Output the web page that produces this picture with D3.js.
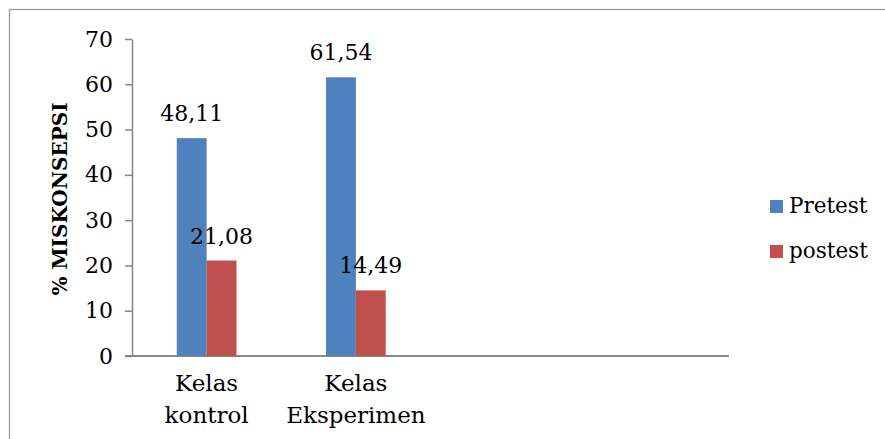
<!DOCTYPE html>
<html>
<head>
<meta charset="utf-8">
<script src="https://cdn.jsdelivr.net/npm/d3@7"></script>
<style>
  body { margin: 0; background: #fff; }
</style>
</head>
<body>
<div id="chart"></div>
<script>
const categories = [['Kelas', 'kontrol'], ['Kelas', 'Eksperimen'], [], []];
const seriesNames = ['Pretest', 'postest'];
const pretest = [48.11, 61.54];
const postest = [21.08, 14.49];
const yTicks = [0, 10, 20, 30, 40, 50, 60, 70];
const colors = ['#4F81BD', '#C0504D'];

const FONT = "'DejaVu Serif', serif";

const svgWidth = 885, svgHeight = 439;
const margin = { left: 132, right: 156, top: 39, bottom: 83 };
const width = svgWidth - margin.left - margin.right;
const height = svgHeight - margin.top - margin.bottom;

function translate(x, y) {
    return 'translate(' + x + ',' + y + ')';
}

const svg = d3.select('#chart').append('svg')
    .attr('width', svgWidth)
    .attr('height', svgHeight)
    .style('font-family', FONT);

// outer chart border (runs off the right/bottom edge)
svg.append('rect')
    .attr('x', 9.5).attr('y', 9.5)
    .attr('width', 1000).attr('height', 1000)
    .attr('fill', 'none')
    .attr('stroke', '#9a9a9a')
    .attr('stroke-width', 1.3);

const g = svg.append('g').attr('transform', translate(margin.left, margin.top));

const x0 = d3.scaleBand()
    .domain(d3.range(categories.length))
    .range([0, width]);
const x1 = d3.scaleBand()
    .domain(seriesNames)
    .range([0, x0.bandwidth()])
    .paddingOuter(1.5);
const y = d3.scaleLinear().domain([0, 70]).range([height, 0]);

// y axis
const yAxis = g.append('g')
    .call(d3.axisLeft(y).tickValues(yTicks).tickSize(7).tickSizeOuter(0).tickPadding(12));
yAxis.attr('font-family', null);
yAxis.select('.domain').attr('stroke', '#868686').attr('stroke-width', 1.5);
yAxis.selectAll('.tick line').attr('stroke', '#868686').attr('stroke-width', 1.5);
yAxis.selectAll('.tick text').style('font-size', '22px').style('font-family', FONT).attr('fill', '#000');

// x axis line
g.append('line')
    .attr('x1', -7).attr('x2', width)
    .attr('y1', height).attr('y2', height)
    .attr('stroke', '#868686').attr('stroke-width', 2);

const data = pretest.map((d, i) => ({ i: i, vals: [pretest[i], postest[i]] }));

const groups = g.selectAll('.grp').data(data).enter()
    .append('g')
    .attr('class', 'grp')
    .attr('transform', d => translate(x0(d.i), 0));

groups.selectAll('rect').data(d => d.vals.map((v, k) => ({ v: v, k: k }))).enter()
    .append('rect')
    .attr('x', d => x1(seriesNames[d.k]))
    .attr('width', x1.bandwidth())
    .attr('y', d => y(d.v))
    .attr('height', d => height - y(d.v))
    .attr('fill', d => colors[d.k]);

groups.selectAll('.lbl').data(d => d.vals.map((v, k) => ({ v: v, k: k }))).enter()
    .append('text')
    .attr('class', 'lbl')
    .attr('x', d => x1(seriesNames[d.k]) + x1.bandwidth() / 2)
    .attr('y', d => y(d.v) - 17)
    .attr('text-anchor', 'middle')
    .style('font-size', '22px')
    .text(d => d.v.toFixed(2).replace('.', ','));

// category labels
const catLabels = g.selectAll('.cat').data(categories).enter()
    .append('text')
    .attr('class', 'cat')
    .attr('text-anchor', 'middle')
    .attr('transform', (d, i) => translate(x0(i) + x0.bandwidth() / 2, height + 35))
    .style('font-size', '23px');
catLabels.selectAll('tspan').data(d => d).enter()
    .append('tspan')
    .attr('x', 0)
    .attr('dy', (d, i) => i === 0 ? 0 : 32)
    .text(d => d);

// y title
svg.append('text')
    .attr('transform', translate(67, 199) + ' rotate(-90)')
    .attr('text-anchor', 'middle')
    .style('font-size', '20px')
    .style('font-weight', 'bold')
    .text('% MISKONSEPSI');

// legend
const legend = svg.append('g').attr('transform', translate(770, 200));
seriesNames.forEach((name, k) => {
    legend.append('rect')
        .attr('x', 0).attr('y', k * 45)
        .attr('width', 13).attr('height', 13)
        .attr('fill', colors[k]);
    legend.append('text')
        .attr('x', 19).attr('y', k * 45 + 13)
        .style('font-size', '21.5px')
        .text(name);
});
</script>
</body>
</html>
